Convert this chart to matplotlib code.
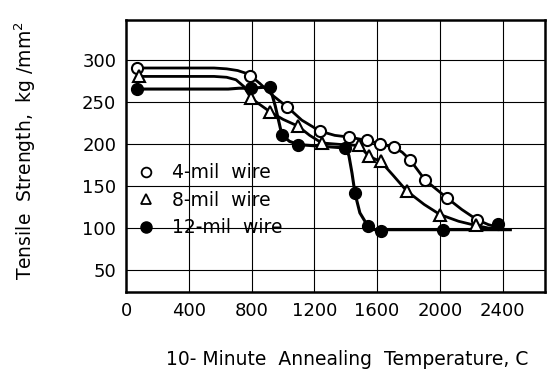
import numpy as np
import matplotlib
matplotlib.use("Agg")
from matplotlib import pyplot as plt
from matplotlib.lines import Line2D

# measured points (markers)
x4 = [70, 790, 1025, 1236, 1420, 1536, 1617, 1706, 1810, 1906, 2044, 2236]
y4 = [290, 281, 244, 215, 208, 204, 200, 196, 181, 157, 136, 110]
x8 = [80, 796, 917, 1095, 1247, 1485, 1548, 1623, 1789, 2001, 2230]
y8 = [280, 254, 238, 221, 201, 198, 185, 179, 144, 116, 103]
x12 = [66, 794, 917, 992, 1098, 1398, 1459, 1542, 1625, 2022, 2370]
y12 = [265, 266, 267, 211, 199, 195, 141, 102, 96, 98, 105]

# hand-drawn curves
cx4 = [70, 560, 640, 710, 760, 790, 850, 930, 1025, 1120, 1236, 1330, 1420, 1536,
       1617, 1706, 1760, 1810, 1906, 2044, 2140, 2236, 2310, 2390]
cy4 = [290, 290, 289, 287, 284, 281, 272, 258, 244, 228, 215, 210, 208, 204,
       200, 196, 190, 181, 157, 136, 122, 110, 104, 100]
cx8 = [80, 560, 640, 700, 750, 796, 917, 1000, 1095, 1170, 1247, 1380, 1485, 1548,
       1623, 1700, 1789, 1900, 2001, 2120, 2230, 2310, 2390]
cy8 = [280, 280, 279, 276, 268, 254, 238, 229, 221, 210, 201, 199, 198, 185,
       179, 163, 144, 128, 116, 108, 103, 100, 99]
cx12 = [66, 560, 650, 720, 794, 870, 917, 950, 992, 1040, 1098, 1250, 1398, 1420,
        1440, 1459, 1490, 1542, 1580, 1625, 2022, 2450]
cy12 = [265, 265, 265, 266, 266, 267, 267, 245, 211, 203, 199, 197, 195, 186,
        165, 141, 118, 102, 98, 98, 98, 98]

labels = ["4-mil  wire", "8-mil  wire", "12-mil  wire"]
xticks = [0, 400, 800, 1200, 1600, 2000, 2400]
yticks = [50, 100, 150, 200, 250, 300]

fig = plt.figure(figsize=(5.49, 3.71), dpi=100)
ax = fig.add_axes([0.2295, 0.2129, 0.7632, 0.7332])

for v in xticks[1:]:
    ax.axvline(v, color='black', lw=0.8, zorder=1)
for v in yticks:
    ax.axhline(v, color='black', lw=0.8, zorder=1)

ax.plot(cx4, cy4, color='black', lw=2, zorder=2)
ax.plot(cx8, cy8, color='black', lw=2, zorder=2)
ax.plot(cx12, cy12, color='black', lw=2.2, zorder=2)

ax.plot(x4, y4, 'o', ms=8, mfc='white', mec='black', mew=1.5, zorder=3)
ax.plot(x8, y8, '^', ms=8, mfc='white', mec='black', mew=1.5, zorder=3)
ax.plot(x12, y12, 'o', ms=8.5, mfc='black', mec='black', zorder=4)

ax.set_xlim(-2, 2671)
ax.set_ylim(24, 347)
ax.set_xticks(xticks)
ax.set_yticks(yticks)
for s in ax.spines.values():
    s.set_linewidth(1.8)
ax.tick_params(length=0, labelsize=13, pad=7)
ax.set_xlabel("10- Minute  Annealing  Temperature, C", fontsize=13.5)
ax.xaxis.set_label_coords(0.527, -0.215)
ax.set_ylabel("Tensile  Strength,  kg /mm$^2$", fontsize=13.5)
ax.yaxis.set_label_coords(-0.21, 0.52)

handles = [
    Line2D([], [], ls='none', marker='o', ms=7, mfc='white', mec='black', mew=1.3),
    Line2D([], [], ls='none', marker='^', ms=7, mfc='white', mec='black', mew=1.3),
    Line2D([], [], ls='none', marker='o', ms=8, mfc='black', mec='black'),
]
ax.legend(handles, labels, frameon=False, loc='upper left',
          bbox_to_anchor=(-0.02, 0.535), fontsize=13.5, handlelength=1.2,
          handletextpad=0.8, labelspacing=0.45)

fig.savefig("out.png")
